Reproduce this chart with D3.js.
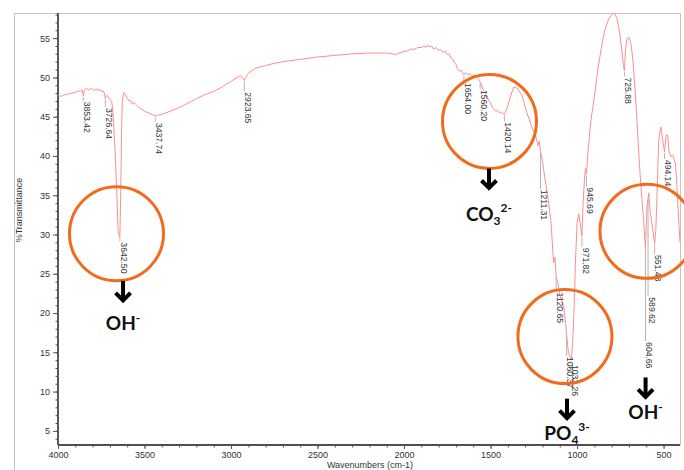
<!DOCTYPE html>
<html>
<head>
<meta charset="utf-8">
<script src="https://cdn.jsdelivr.net/npm/d3@7"></script>
<style>
  body { margin: 0; background: #fff; }
  svg { display: block; }
</style>
</head>
<body>
<div id="chart"></div>
<script>
// IR spectrum, [wavenumber cm-1, %T]
const spectrum = [
  [4000,47.7],[3980,47.6],[3960,47.8],[3940,47.9],[3920,48.0],[3900,48.1],[3885,48.3],[3870,48.2],
  [3860,48.4],[3853.42,47.6],[3848,48.4],[3835,48.6],[3820,48.4],[3810,48.6],[3800,48.5],[3790,48.3],
  [3780,48.6],[3770,48.3],[3760,48.5],[3750,48.2],[3740,48.3],[3732,48.0],[3726.64,47.3],[3720,47.7],
  [3711,47.6],[3700,47.2],[3690,47.0],[3682,45.5],[3671,41.1],[3659,34.8],[3653,30.5],[3642.5,29.6],
  [3637,36],[3632,44],[3628,47],[3619,48.1],[3610,47.8],[3601,47.4],[3590,47.0],[3580,47.1],
  [3572,46.6],[3560,46.8],[3543,46.4],[3530,46.1],[3514,45.9],[3500,45.7],[3480,45.5],[3460,45.3],
  [3437.74,45.1],[3420,45.2],[3400,45.3],[3350,45.7],[3295,46.2],[3250,46.7],[3200,47.3],[3150,47.8],
  [3100,48.2],[3050,48.8],[3000,49.5],[2965,50.0],[2945,50.2],[2935,50.0],[2923.65,49.6],[2915,50.0],
  [2905,50.4],[2890,50.7],[2870,51.0],[2855,51.2],[2800,51.5],[2750,51.8],[2700,52.0],[2600,52.3],
  [2500,52.6],[2400,52.8],[2300,53.0],[2200,53.1],[2100,53.1],[2070,53.0],[2050,52.9],[2030,53.1],
  [2000,53.3],[1980,53.4],[1960,53.6],[1940,53.6],[1920,53.8],[1900,53.8],[1885,54.0],[1875,53.8],
  [1865,54.1],[1850,53.9],[1840,54.0],[1830,53.6],[1815,53.8],[1800,53.4],[1790,53.6],[1775,53.2],
  [1760,53.3],[1750,52.9],[1740,53.0],[1730,52.5],[1720,52.4],[1710,51.9],[1700,51.7],[1690,51.0],
  [1680,50.8],[1670,50.9],[1660,50.5],[1654,50.3],[1645,50.6],[1630,50.3],[1620,50.5],[1605,50.2],
  [1590,50.3],[1575,49.9],[1565,49.7],[1560.2,49.4],[1550,48.9],[1540,48.3],[1525,47.8],[1510,47.0],
  [1500,46.8],[1490,46.2],[1480,46.0],[1470,45.7],[1460,45.8],[1450,45.5],[1440,45.6],[1430,45.4],
  [1420.14,45.3],[1410,45.8],[1400,46.4],[1385,47.6],[1365,48.8],[1345,48.6],[1320,47.8],[1290,45.5],
  [1260,43.6],[1240,42.6],[1225,41.3],[1218,41.9],[1211.31,40.6],[1200,39.4],[1185,37.0],[1170,35.0],
  [1150,31.5],[1140,27.8],[1135,26.4],[1128,27.1],[1120.65,24.6],[1112,24.0],[1100,22.3],[1085,21.3],
  [1075,20.5],[1065,18.5],[1060.37,17.2],[1050,15.0],[1040,14.4],[1033.26,14.0],[1025,16.5],[1018,20],
  [1010,26],[1000,31.5],[990,32.6],[982,31.5],[971.82,29.8],[965,34],[955,37.8],[950,38.4],
  [945.69,37.6],[938,40.2],[920,44.5],[900,47.5],[880,51],[860,53.7],[840,56],[820,57.3],
  [800,58.0],[785,58.2],[770,57.6],[755,55.9],[742,53.6],[732,51.5],[725.88,50.8],[720,53.5],
  [712,54.9],[700,55.1],[688,54.2],[676,52.0],[665,48.5],[655,45],[645,41],[635,37.5],
  [625,34.5],[615,31.8],[604.66,28.2],[600,31],[596,33.5],[589.62,34.6],[585,35.3],[578,33],
  [570,31.8],[560,30.2],[551.48,28.8],[545,30.5],[540,33.5],[534,38],[528,42],[520,43.3],
  [515,43.7],[508,42.5],[500,41.2],[494.14,40.5],[488,42.2],[482,42.7],[476,42.5],[470,40.8],
  [462,40.2],[455,39.9],[447,40.1],[440,39.6],[432,39.1],[425,37],[418,34],[410,31],[405,29]
];

// labelled peaks and the %T level where each label starts
const peakWn    = [3853.42, 3726.64, 3642.50, 3437.74, 2923.65, 1654.00, 1560.20, 1420.14, 1211.31,
                   1120.65, 1060.37, 1033.26, 971.82, 945.69, 725.88, 604.66, 589.62, 551.48, 494.14];
const peakText  = ["3853.42","3726.64","3642.50","3437.74","2923.65","1654.00","1560.20","1420.14","1211.31",
                   "1120.65","1060.37","1033.26","971.82","945.69","725.88","604.66","589.62","551.48","494.14"];
const labelLevel = [46.9, 46.1, 29.0, 44.2, 48.1, 49.3, 48.4, 44.3, 35.7,
                    22.6, 14.4, 13.4, 28.3, 36.0, 50.0, 16.3, 22.0, 27.4, 39.5];

// circled bands: centre (wn, %T), arrow at wn from level top, ion label baseline level
const bandWn     = [3662, 1506, 1070, 596];
const bandT      = [30.1, 44.4, 17.0, 30.4];
const arrowWn    = [3624, 1509, 1058, 604];
const arrowTop   = [24.1, 38.4, 9.1, 11.8];
const ionLevel   = [17.9, 31.7, 3.9, 6.5];
const ionBase    = [["OH", "", "-"], ["CO", "3", "2-"], ["PO", "4", "3-"], ["OH", "", "-"]];

const xTicks = [4000, 3500, 3000, 2500, 2000, 1500, 1000, 500];
const yTicks = [5, 10, 15, 20, 25, 30, 35, 40, 45, 50, 55];

const W = 684, H = 470;
const mLeft = 58, mRight = 680, mTop = 13, mBottom = 445;

const svg = d3.select("#chart").append("svg")
  .attr("width", W).attr("height", H);

const x = d3.scaleLinear().domain([4000, 405]).range([mLeft, mRight]);
const y = d3.scaleLinear().domain([3.2, 58.2]).range([mBottom, mTop]);

// outer frame
svg.append("path")
  .attr("d", `M14.5,${H + 2}V${mTop + 0.5}H${mRight + 0.5}V${mBottom}`)
  .attr("fill", "none").attr("stroke", "#c4c4c4").attr("stroke-width", 1);

const labelFont = "'Liberation Sans', Arial, sans-serif";

// y axis
const yAxis = svg.append("g").attr("transform", `translate(${mLeft},0)`);
yAxis.call(d3.axisLeft(y).tickValues(d3.range(4, 59, 1)).tickSize(2.5).tickFormat(""));
yAxis.append("g").call(d3.axisLeft(y).tickValues(yTicks).tickSize(5).tickPadding(3));
yAxis.selectAll("text").attr("font-family", labelFont).attr("font-size", 9).attr("fill", "#333");
yAxis.selectAll("line").attr("stroke", "#555");
yAxis.selectAll(".domain").attr("stroke", "#444").attr("stroke-width", 1.3)
  .attr("d", `M0,${mTop}V${mBottom}`);

// x axis
const xAxis = svg.append("g").attr("transform", `translate(0,${mBottom})`);
xAxis.call(d3.axisBottom(x).tickValues(d3.range(4000, 404, -100)).tickSize(2.5).tickFormat(""));
xAxis.append("g").call(d3.axisBottom(x).tickValues(xTicks).tickSize(4).tickPadding(3).tickFormat(d3.format("d")));
xAxis.selectAll("text").attr("font-family", labelFont).attr("font-size", 9).attr("fill", "#333");
xAxis.selectAll("line").attr("stroke", "#555");
xAxis.selectAll(".domain").attr("stroke", "#444").attr("stroke-width", 1.3)
  .attr("d", `M${mLeft},0H${mRight}`);

svg.append("text")
  .attr("x", 370).attr("y", 468)
  .attr("text-anchor", "middle")
  .attr("font-family", labelFont).attr("font-size", 9).attr("fill", "#333")
  .text("Wavenumbers (cm-1)");

svg.append("text")
  .attr("transform", `translate(22,210) rotate(-90)`)
  .attr("text-anchor", "middle")
  .attr("font-family", labelFont).attr("font-size", 9).attr("fill", "#333")
  .text("%Transmittance");

// spectrum
svg.append("path")
  .datum(spectrum)
  .attr("fill", "none")
  .attr("stroke", "#ff8e8e")
  .attr("stroke-width", 1)
  .attr("d", d3.line().x(d => x(d[0])).y(d => y(d[1])));

// peak markers
const tAt = wn => spectrum.find(p => p[0] === wn)[1];
const peaks = svg.append("g");
peakWn.forEach((wn, i) => {
  const px = x(wn);
  peaks.append("line")
    .attr("x1", px).attr("x2", px)
    .attr("y1", y(tAt(wn)) + 1).attr("y2", y(labelLevel[i]) - 1)
    .attr("stroke", "#b4b4b4").attr("stroke-width", 1);
  peaks.append("text")
    .attr("transform", `translate(${px + 3},${y(labelLevel[i])}) rotate(90)`)
    .attr("dominant-baseline", "middle")
    .attr("font-family", labelFont).attr("font-size", 8.6).attr("fill", "#333")
    .text(peakText[i]);
});

// circles, arrows, ions
const notes = svg.append("g");
bandWn.forEach((wn, i) => {
  notes.append("circle")
    .attr("cx", x(wn)).attr("cy", y(bandT[i])).attr("r", 47)
    .attr("fill", "none").attr("stroke", "#f26b1d").attr("stroke-width", 3);

  const ax = x(arrowWn[i]), ay = y(arrowTop[i]);
  notes.append("path")
    .attr("d", `M${ax},${ay}V${ay + 20}`)
    .attr("stroke", "#000").attr("stroke-width", 4).attr("fill", "none");
  notes.append("path")
    .attr("d", `M${ax - 7.5},${ay + 12}L${ax},${ay + 19.5}L${ax + 7.5},${ay + 12}`)
    .attr("stroke", "#000").attr("stroke-width", 4).attr("fill", "none")
    .attr("stroke-linecap", "butt").attr("stroke-linejoin", "miter");

  const [base, sub, sup] = ionBase[i];
  const t = notes.append("text")
    .attr("x", ax).attr("y", y(ionLevel[i]))
    .attr("text-anchor", "middle")
    .attr("font-family", "Lato, 'Open Sans', sans-serif")
    .attr("font-weight", 700).attr("font-size", 19).attr("fill", "#111");
  t.append("tspan").text(base);
  if (sub) t.append("tspan").attr("font-size", 12).attr("dy", 4).text(sub);
  t.append("tspan").attr("font-size", 12).attr("dy", sub ? -13 : -8).text(sup);
});
</script>
</body>
</html>
